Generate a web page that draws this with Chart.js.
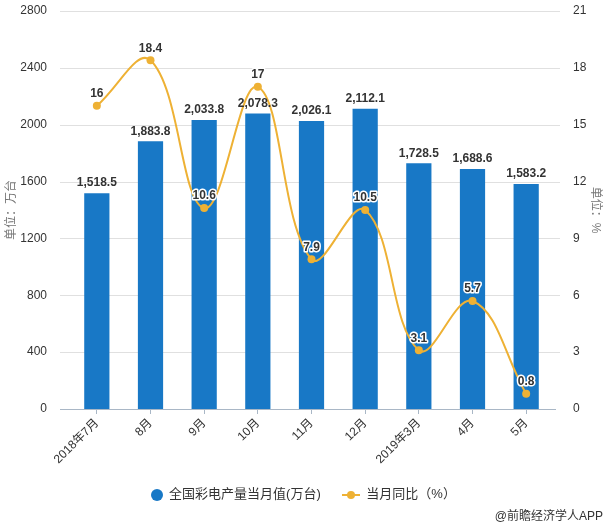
<!DOCTYPE html>
<html>
<head>
<meta charset="utf-8">
<script src="https://cdn.jsdelivr.net/npm/chart.js@4.4.1/dist/chart.umd.min.js"></script>
<style>
  html, body { margin: 0; padding: 0; background: #fff; }
  #wrap { position: relative; width: 607px; height: 527px; font-family: "Liberation Sans", "Noto Sans CJK SC", sans-serif; }
  #legend { position: absolute; left: 0; width: 607px; top: 483px; text-align: center; font-size: 13px; color: #333; }
  #legend span.item { display: inline-block; vertical-align: middle; margin: 0 9px; }
  .dot { display: inline-block; width: 12px; height: 12px; border-radius: 50%; background: #1878c6; vertical-align: middle; margin-right: 6px; }
  .ln { display: inline-block; position: relative; width: 18px; height: 12px; vertical-align: middle; margin-right: 6px; }
  .ln:before { content: ""; position: absolute; left: 0; right: 0; top: 5px; height: 2px; background: #eeb134; }
  .ln:after { content: ""; position: absolute; left: 5px; top: 2px; width: 8px; height: 8px; border-radius: 50%; background: #eeb134; }
  #credit { position: absolute; right: 4px; top: 506px; font-size: 12px; color: #333; }
</style>
</head>
<body>
<div id="wrap">
  <canvas id="chart" width="607" height="527"></canvas>
  <div id="legend">
    <span class="item"><span class="dot"></span>全国彩电产量当月值(万台)</span>
    <span class="item"><span class="ln"></span>当月同比（%）</span>
  </div>
  <div id="credit">@前瞻经济学人APP</div>
</div>
<script>
const months = ['2018年7月', '8月', '9月', '10月', '11月', '12月', '2019年3月', '4月', '5月'];
const output = [1518.5, 1883.8, 2033.8, 2078.3, 2026.1, 2112.1, 1728.5, 1688.6, 1583.2];
const growth = [16, 18.4, 10.6, 17, 7.9, 10.5, 3.1, 5.7, 0.8];

const BAR_COLOR = '#1878c6';
const LINE_COLOR = '#eeb134';
const FONT = '"Liberation Sans", "Noto Sans CJK SC", sans-serif';

function fmt(v) {
    return v.toLocaleString('en-US', { minimumFractionDigits: 1, maximumFractionDigits: 1 });
}

// long horizontal grid lines, wider than the plot area
const gridPlugin = {
    id: 'longGrid',
    beforeDatasetsDraw(chart) {
        const ctx = chart.ctx;
        const y = chart.scales.y;
        ctx.save();
        ctx.lineWidth = 1;
        y.ticks.forEach(t => {
            const py = Math.round(y.getPixelForValue(t.value)) + 0.5;
            ctx.strokeStyle = t.value === 0 ? '#a9b7c6' : '#e0e0e0';
            ctx.beginPath();
            ctx.moveTo(60, py);
            ctx.lineTo(t.value === 0 ? 556 : 560, py);
            ctx.stroke();
        });
        ctx.restore();
    }
};

const labelPlugin = {
    id: 'valueLabels',
    afterDatasetsDraw(chart) {
        const ctx = chart.ctx;
        ctx.save();
        ctx.textAlign = 'center';
        ctx.textBaseline = 'bottom';
        ctx.font = 'bold 12px ' + FONT;
        chart.getDatasetMeta(1).data.forEach((bar, i) => {
            ctx.fillStyle = '#333';
            ctx.fillText(fmt(output[i]), bar.x, bar.y - 4);
        });
        chart.getDatasetMeta(0).data.forEach((pt, i) => {
            const txt = String(growth[i]);
            ctx.lineWidth = 3;
            ctx.strokeStyle = '#fff';
            ctx.lineJoin = 'round';
            ctx.strokeText(txt, pt.x, pt.y - 6);
            ctx.fillStyle = '#333';
            ctx.fillText(txt, pt.x, pt.y - 6);
        });
        ctx.restore();
    }
};

function fitY(width) {
    return s => {
        s.width = width;
        s.paddingTop = 0;
        s.paddingBottom = 0;
    };
}

new Chart(document.getElementById('chart'), {
    data: {
        labels: months,
        datasets: [{
            type: 'line',
            label: '当月同比（%）',
            data: growth,
            yAxisID: 'y1',
            borderColor: LINE_COLOR,
            backgroundColor: LINE_COLOR,
            borderWidth: 2,
            pointRadius: 4,
            pointBackgroundColor: LINE_COLOR,
            pointBorderWidth: 0,
            tension: 0.4,
            order: 0
        }, {
            type: 'bar',
            label: '全国彩电产量当月值(万台)',
            data: output,
            yAxisID: 'y',
            backgroundColor: BAR_COLOR,
            categoryPercentage: 1,
            barPercentage: 0.47,
            order: 1
        }]
    },
    options: {
        responsive: false,
        animation: false,
        layout: { padding: { top: 11, left: 0, right: 0, bottom: 0 } },
        plugins: {
            legend: { display: false },
            tooltip: { enabled: false }
        },
        scales: {
            x: {
                grid: { display: true, drawOnChartArea: false, offset: false, tickLength: 5, color: '#a9b7c6' },
                border: { display: false },
                ticks: {
                    color: '#333',
                    font: { size: 12, family: FONT },
                    minRotation: 45,
                    maxRotation: 45,
                    padding: 2
                },
                afterFit(s) { s.height = 118; }
            },
            y: {
                position: 'left',
                min: 0,
                max: 2800,
                ticks: { stepSize: 400, color: '#333', padding: 15, font: { size: 12, family: FONT }, callback: v => String(v) },
                grid: { display: false },
                border: { display: false },
                title: { display: true, text: '单位：万台', color: '#777', padding: 4, font: { size: 12, family: FONT } },
                afterFit: fitY(70)
            },
            y1: {
                position: 'right',
                min: 0,
                max: 21,
                ticks: { stepSize: 3, color: '#333', padding: 12, font: { size: 12, family: FONT }, callback: v => String(v) },
                grid: { display: false },
                border: { display: false },
                title: { display: true, text: '单位：%', color: '#777', padding: 4, font: { size: 12, family: FONT } },
                afterFit: fitY(54)
            }
        }
    },
    plugins: [gridPlugin, labelPlugin]
});
</script>
</body>
</html>
